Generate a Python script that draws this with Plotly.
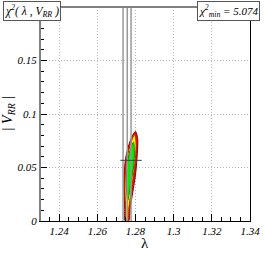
import plotly.graph_objects as go

# Contour regions (lambda, |V_RR|)
red_lam = [1.27467, 1.27436, 1.27400, 1.27400, 1.27487, 1.27605, 1.27774, 1.27999,
           1.28116, 1.28081, 1.27999, 1.27861, 1.27722, 1.27641]
red_v = [0.0, 0.0121, 0.0270, 0.0428, 0.0586, 0.0679, 0.0772, 0.0837,
         0.0772, 0.0586, 0.0428, 0.0270, 0.0121, 0.0]
yel_lam = [1.27518, 1.27487, 1.27451, 1.27467, 1.27554, 1.27774, 1.27948,
           1.28029, 1.27999, 1.27896, 1.27774, 1.27656, 1.27605]
yel_v = [0.0, 0.0121, 0.0273, 0.0428, 0.0586, 0.0738, 0.0807,
         0.0738, 0.0586, 0.0428, 0.0273, 0.0121, 0.0]
grn_lam = [1.27896, 1.27948, 1.27912, 1.27774, 1.27641, 1.27605, 1.27554,
           1.27518, 1.27569, 1.27692]
grn_v = [0.0738, 0.0645, 0.0521, 0.0366, 0.0226, 0.0195, 0.0242,
         0.0366, 0.0521, 0.0645]

vlines_lam = [1.2735, 1.2757, 1.2777]
best_lam = 1.2777
best_v = 0.0567
cross_half = 0.0056
chi2_min = "5.074"

x_ticks = [1.24, 1.26, 1.28, 1.30, 1.32, 1.34]
x_ticktext = ["1.24", "1.26", "1.28", "1.3", "1.32", "1.34"]
y_ticks = [0, 0.05, 0.10, 0.15]
y_ticktext = ["0", "0.05", "0.1", "0.15"]

serif = "'Liberation Serif', 'Times New Roman', serif"

fig = go.Figure()

def region(lam, v, fill, line):
    fig.add_trace(go.Scatter(
        x=lam + lam[:1], y=v + v[:1], mode="lines", fill="toself",
        fillcolor=fill, line=dict(color=line, width=1, shape="spline", smoothing=0.8),
        hoverinfo="skip", showlegend=False))

region(red_lam, red_v, "#ff0000", "#8b0000")
region(yel_lam, yel_v, "#ffff00", "#b03000")
region(grn_lam, grn_v, "#00ee00", "#208020")

for lv in vlines_lam:
    fig.add_trace(go.Scatter(x=[lv, lv], y=[0, 0.2], mode="lines",
                             line=dict(color="#999999", width=1.5),
                             hoverinfo="skip", showlegend=False))

fig.add_trace(go.Scatter(x=[best_lam - cross_half, best_lam + cross_half],
                         y=[best_v, best_v], mode="lines",
                         line=dict(color="#404040", width=1),
                         hoverinfo="skip", showlegend=False))

axis_common = dict(
    showgrid=True, gridcolor="#b8b8b8", griddash="1px,2px", gridwidth=1,
    zeroline=False, showline=True, linecolor="black", linewidth=1, mirror=True,
    ticks="inside", tickcolor="black", ticklen=7,
    tickfont=dict(family=serif, size=11, color="black"),
)

fig.update_layout(
    width=266, height=253,
    margin=dict(l=40, r=11, t=6, b=32),
    paper_bgcolor="white", plot_bgcolor="white",
    xaxis=dict(range=[1.23, 1.34], tickvals=x_ticks,
               ticktext=["<i>%s</i>" % t for t in x_ticktext],
               minor=dict(dtick=0.005, tick0=1.23, ticks="inside", ticklen=4,
                          tickcolor="black", showgrid=False),
               **axis_common),
    yaxis=dict(range=[0, 0.2], tickvals=y_ticks,
               ticktext=["<i>%s</i>" % t for t in y_ticktext],
               minor=dict(dtick=0.01, tick0=0, ticks="inside", ticklen=4,
                          tickcolor="black", showgrid=False),
               **axis_common),
)

pw, ph = 215.0, 215.0
def px(x):
    return (x - 40) / pw
def py(y):
    return (221 - y) / ph

fig.add_annotation(text="λ", x=px(147.5), y=py(243), xref="paper", yref="paper",
                   xanchor="center", yanchor="middle", showarrow=False,
                   font=dict(family=serif, size=15, color="black"))
fig.add_annotation(text="<i>| V<sub>RR</sub> |</i>", x=px(8), y=py(113),
                   xref="paper", yref="paper",
                   xanchor="center", yanchor="middle", showarrow=False, textangle=-90,
                   font=dict(family=serif, size=14, color="black"))
fig.add_annotation(text="<i>χ<sup>2</sup>( λ , V<sub>RR</sub> )</i>", x=px(2), y=py(0),
                   xref="paper", yref="paper", xanchor="left", yanchor="top",
                   showarrow=False, bgcolor="white", bordercolor="#555555",
                   borderwidth=1, borderpad=1,
                   font=dict(family=serif, size=11.5, color="black"))
fig.add_annotation(text="<i>χ<sup>2</sup><sub>min</sub> = " + chi2_min + "</i>",
                   x=px(265), y=py(0), xref="paper", yref="paper",
                   xanchor="right", yanchor="top",
                   showarrow=False, bgcolor="white", bordercolor="#555555",
                   borderwidth=1, borderpad=1,
                   font=dict(family=serif, size=11, color="black"))

# gray top and left frame lines
fig.add_shape(type="line", xref="paper", yref="paper", x0=0, x1=1, y0=1, y1=1,
              line=dict(color="#808080", width=2))
fig.add_shape(type="line", xref="paper", yref="paper", x0=0, x1=0, y0=0, y1=1,
              line=dict(color="#808080", width=2))

fig.write_html("out.html", config={"displayModeBar": False},
               post_script="document.body.style.margin='0';")
